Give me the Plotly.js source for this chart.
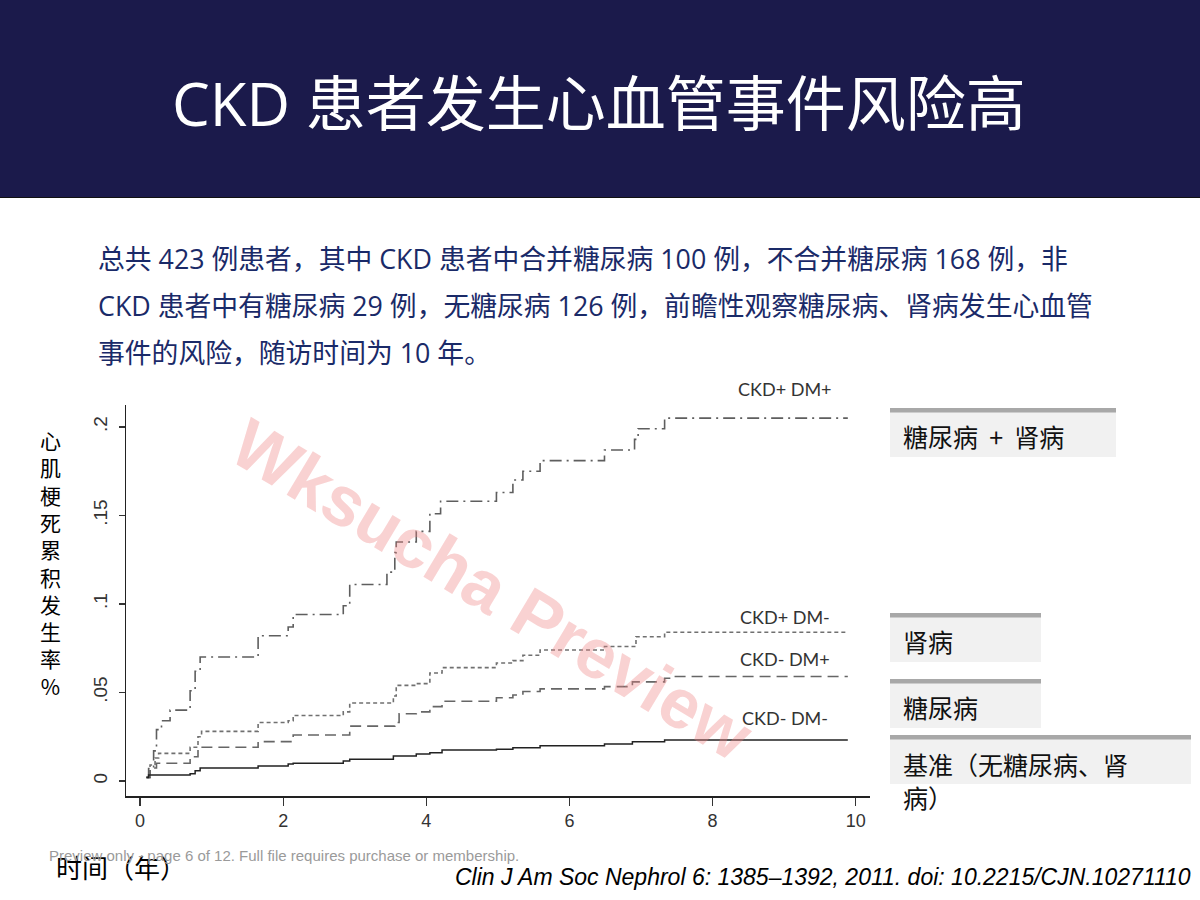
<!DOCTYPE html>
<html>
<head>
<meta charset="utf-8">
<script src="https://cdn.plot.ly/plotly-3.0.1.min.js"></script>
<style>
html,body{margin:0;padding:0;background:#fff;}
#chart{width:1200px;height:900px;}
</style>
</head>
<body>
<div id="chart"></div>
<script>
// ---- Data ----
var seriesNames = ["CKD+ DM+", "CKD+ DM-", "CKD- DM+", "CKD- DM-"];

var tCkdDm = [0.09,0.12,0.19,0.23,0.30,0.42,0.70,0.77,0.84,1.65,2.07,2.14,2.84,2.93,3.45,3.56,3.58,3.86,4.05,4.20,4.98,5.21,5.35,5.59,6.49,6.91,6.96,7.33,9.89];
var vCkdDm = [0.002,0.007,0.017,0.029,0.034,0.040,0.051,0.062,0.070,0.082,0.087,0.094,0.099,0.111,0.118,0.129,0.135,0.141,0.151,0.158,0.163,0.170,0.175,0.181,0.187,0.193,0.199,0.205,0.205];

var tCkdNoDm = [0.09,0.14,0.21,0.26,0.70,0.81,0.86,1.65,2.07,2.14,2.84,2.93,3.54,3.58,3.86,4.05,4.22,4.98,5.21,5.35,5.59,6.49,6.93,7.33,9.89];
var vCkdNoDm = [0.002,0.009,0.013,0.0156,0.019,0.025,0.028,0.033,0.034,0.037,0.039,0.044,0.048,0.054,0.055,0.061,0.064,0.0666,0.068,0.071,0.074,0.076,0.0815,0.084,0.084];

var tNoCkdDm = [0.09,0.14,0.23,0.70,0.81,1.65,2.14,2.93,3.56,3.62,3.86,4.05,4.22,4.98,5.21,5.35,5.59,6.49,6.88,7.33,7.42,9.89];
var vNoCkdDm = [0.002,0.0073,0.010,0.0137,0.019,0.0222,0.026,0.031,0.033,0.038,0.039,0.042,0.045,0.047,0.0486,0.0505,0.052,0.0533,0.056,0.058,0.059,0.059];

var tNone = [0.09,0.12,0.70,0.77,0.84,1.65,2.07,2.14,2.84,2.93,3.54,3.86,4.05,4.22,4.98,5.21,5.59,6.49,6.88,7.33,9.89];
var vNone = [0.002,0.0034,0.004,0.0058,0.0073,0.0085,0.0096,0.010,0.0113,0.0122,0.0141,0.0152,0.016,0.0175,0.0179,0.0188,0.0199,0.0209,0.0222,0.0232,0.0232];

var xTickVals = [0,2,4,6,8,10];
var xTickText = ["0","2","4","6","8","10"];
var yTickVals = [0,0.05,0.1,0.15,0.2];
var yTickText = ["0",".05",".1",".15",".2"];

var boxLabels = ["糖尿病&nbsp;&nbsp;+&nbsp;&nbsp;肾病", "肾病", "糖尿病", "基准（无糖尿病、肾<br>病）"];

var titleText = "CKD 患者发生心血管事件风险高";
var bodyLines = [
  "总共 423 例患者，其中 CKD 患者中合并糖尿病 100 例，不合并糖尿病 168 例，非",
  "CKD 患者中有糖尿病 29 例，无糖尿病 126 例，前瞻性观察糖尿病、肾病发生心血管",
  "事件的风险，随访时间为 10 年。"
];
var yLabel = "心<br>肌<br>梗<br>死<br>累<br>积<br>发<br>生<br>率<br>%";
var xLabel = "时间（年）";
var previewNote = "Preview only - page 6 of 12. Full file requires purchase or membership.";
var citation = "Clin J Am Soc Nephrol 6: 1385–1392, 2011. doi: 10.2215/CJN.10271110";
var watermark = "Wksucha Preview";

// ---- Layout helpers (pixel -> paper) ----
var L = 126, R = 870, T = 405, B = 796;
function px(x){ return (x - L) / (R - L); }
function py(y){ return (B - y) / (B - T); }

var CJK = "'Open Sans', 'Noto Sans CJK SC', sans-serif";
var CJK2 = "'Noto Sans CJK SC', 'Noto Sans', sans-serif";

var traces = [
  {x: tCkdDm, y: vCkdDm, name: seriesNames[0], mode: "lines", line: {shape: "hv", color: "#5e5e5e", width: 1.6, dash: "12px,5px,2px,5px"}},
  {x: tCkdNoDm, y: vCkdNoDm, name: seriesNames[1], mode: "lines", line: {shape: "hv", color: "#707070", width: 1.6, dash: "4px,3px"}},
  {x: tNoCkdDm, y: vNoCkdDm, name: seriesNames[2], mode: "lines", line: {shape: "hv", color: "#666666", width: 1.6, dash: "11px,6px"}},
  {x: tNone, y: vNone, name: seriesNames[3], mode: "lines", line: {shape: "hv", color: "#222222", width: 1.5}}
];

var shapes = [
  {type: "rect", xref: "paper", yref: "paper", x0: px(0), x1: px(1200), y0: py(0), y1: py(197), fillcolor: "#1b1a4b", line: {width: 0}, layer: "below"},
  {type: "line", xref: "paper", yref: "paper", x0: px(0), x1: px(1200), y0: py(197.5), y1: py(197.5), line: {color: "#111", width: 1.2}}
];

var boxes = [
  {x0: 890, x1: 1116, y0: 408, y1: 457, ty: 436},
  {x0: 890, x1: 1041, y0: 613, y1: 662, ty: 641},
  {x0: 890, x1: 1041, y0: 679, y1: 728, ty: 707},
  {x0: 890, x1: 1191, y0: 735, y1: 784, ty: 780}
];
boxes.forEach(function(b){
  shapes.push({type: "rect", xref: "paper", yref: "paper", x0: px(b.x0), x1: px(b.x1), y0: py(b.y1), y1: py(b.y0), fillcolor: "#f1f1f1", line: {width: 0}});
  shapes.push({type: "rect", xref: "paper", yref: "paper", x0: px(b.x0), x1: px(b.x1), y0: py(b.y0 + 4.5), y1: py(b.y0), fillcolor: "#a8a8a8", line: {width: 0}});
});

function ann(text, x, y, xa, font, extra){
  var a = {text: text, xref: "paper", yref: "paper", x: px(x), y: py(y), xanchor: xa, yanchor: "middle", showarrow: false, font: font};
  if (extra) for (var k in extra) a[k] = extra[k];
  return a;
}

var annotations = [
  ann(watermark, 492, 590, "center", {family: "'Liberation Sans', Arial, sans-serif", size: 70, color: "rgba(238,130,130,0.36)", weight: "bold"}, {textangle: 31}),
  ann(titleText, 599, 103, "center", {family: CJK, size: 60, color: "#ffffff"}),
  ann(xLabel, 54, 866, "left", {family: CJK2, size: 26, color: "#000"}),
  ann(yLabel, 50, 563, "center", {family: CJK2, size: 21, color: "#000"}),
  ann(previewNote, 47, 855, "left", {family: "'Liberation Sans', Arial, sans-serif", size: 15, color: "#9a9a9a"}),
  ann("<i>" + citation + "</i>", 1193, 877, "right", {family: "'Liberation Sans', Arial, sans-serif", size: 23, color: "#000"})
];

bodyLines.forEach(function(s, i){
  annotations.push(ann(s, 96, 258 + i * 47, "left", {family: CJK, size: 26.8, color: "#1a2a68"}));
});

var curveLabelY = [389, 617, 659, 718];
seriesNames.forEach(function(s, i){
  annotations.push(ann(s, 785, curveLabelY[i], "center", {family: "Lato, 'Open Sans', sans-serif", size: 18, color: "#333"}));
});

boxes.forEach(function(b, i){
  annotations.push(ann(boxLabels[i], 901, b.ty, "left", {family: CJK2, size: 25, color: "#111"}, {align: "left"}));
});

var layout = {
  width: 1200, height: 900,
  margin: {l: L, r: 1200 - R, t: T, b: 900 - B, pad: 0},
  paper_bgcolor: "#ffffff", plot_bgcolor: "#ffffff",
  showlegend: false,
  xaxis: {range: [-0.196, 10.2], tickvals: xTickVals, ticktext: xTickText, showgrid: false, zeroline: false,
    showline: true, linecolor: "#222", linewidth: 1.5, ticks: "outside", ticklen: 8, tickcolor: "#333", tickwidth: 1.2,
    tickfont: {family: "'Liberation Sans', Arial, sans-serif", size: 18, color: "#333"}},
  yaxis: {range: [-0.0085, 0.2124], tickvals: yTickVals, ticktext: yTickText, showgrid: false, zeroline: false,
    showline: true, linecolor: "#222", linewidth: 1.5, ticks: "outside", ticklen: 6, tickcolor: "#333", tickwidth: 1.2,
    ticklabelstandoff: 4,
    tickangle: -90, tickfont: {family: "'Liberation Sans', Arial, sans-serif", size: 19, color: "#333"}},
  shapes: shapes,
  annotations: annotations
};

Plotly.newPlot("chart", traces, layout, {displayModeBar: false, staticPlot: true});
</script>
</body>
</html>
